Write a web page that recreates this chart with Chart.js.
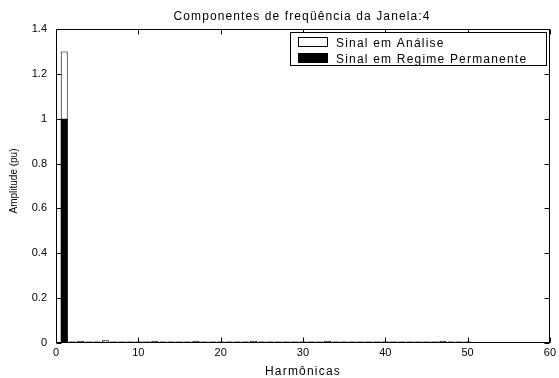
<!DOCTYPE html>
<html>
<head>
<meta charset="utf-8">
<script src="https://cdn.jsdelivr.net/npm/chart.js@4/dist/chart.umd.min.js"></script>
<style>
  html, body { margin: 0; padding: 0; background: #fff; }
  #wrap { width: 559px; height: 378px; }
</style>
</head>
<body>
<div id="wrap"><canvas id="c"></canvas></div>
<script>
// harmonic orders and amplitudes (pu)
const harmonics = [1, 2, 3, 4, 5, 6, 7, 8, 9, 10, 11, 12, 13, 14, 15, 16, 17, 18, 19, 20,
  21, 22, 23, 24, 25, 26, 27, 28, 29, 30, 31, 32, 33, 34, 35, 36, 37, 38, 39, 40,
  41, 42, 43, 44, 45, 46, 47, 48, 49, 50];
const analysis = [1.3, 0.007, 0.01, 0.007, 0.007, 0.012, 0.007, 0.007, 0.007, 0.007,
  0.007, 0.01, 0.007, 0.007, 0.007, 0.007, 0.01, 0.007, 0.007, 0.007,
  0.007, 0.007, 0.007, 0.01, 0.007, 0.007, 0.007, 0.007, 0.007, 0.007,
  0.007, 0.007, 0.01, 0.007, 0.007, 0.007, 0.007, 0.007, 0.007, 0.007,
  0.007, 0.007, 0.007, 0.007, 0.007, 0.007, 0.01, 0.007, 0.007, 0.007];
const steady = [1.0, 0.005, 0.005, 0.005, 0.005, 0.005, 0.005, 0.005, 0.005, 0.005,
  0.005, 0.005, 0.005, 0.005, 0.005, 0.005, 0.005, 0.005, 0.005, 0.005,
  0.005, 0.005, 0.005, 0.005, 0.005, 0.005, 0.005, 0.005, 0.005, 0.005,
  0.005, 0.005, 0.005, 0.005, 0.005, 0.005, 0.005, 0.005, 0.005, 0.005,
  0.005, 0.005, 0.005, 0.005, 0.005, 0.005, 0.005, 0.005, 0.005, 0.005];
const xTicks = [0, 10, 20, 30, 40, 50, 60];
const yTicks = [0, 0.2, 0.4, 0.6, 0.8, 1, 1.2, 1.4];

const titleText = 'Componentes de freqüência da Janela:4';
const xLabel = 'Harmônicas';
const yLabel = 'Amplitude (pu)';
const FONT = '"Liberation Sans", Arial, Helvetica, sans-serif';

const pts = (vals) => harmonics.map((h, i) => ({ x: h, y: vals[i] }));

/* frame, inward ticks, title, axis labels and the boxed legend, MATLAB style */
const matlabFrame = {
  id: 'matlabFrame',
  afterDraw(chart){
    const ctx = chart.ctx;
    const a = chart.chartArea;
    const xs = chart.scales.x, ys = chart.scales.y;
    const L = Math.round(a.left) + 0.5, R = Math.round(a.right) - 0.5;
    const T = Math.round(a.top) + 0.5, B = Math.round(a.bottom) - 0.5;
    ctx.save();
    ctx.strokeStyle = '#000';
    ctx.lineWidth = 1;
    ctx.strokeRect(L, T, R - L, B - T);
    ctx.beginPath();
    xTicks.forEach(v=>{
      const px = Math.round(xs.getPixelForValue(v)) + 0.5;
      ctx.moveTo(px, B); ctx.lineTo(px, B - 5);
      ctx.moveTo(px, T); ctx.lineTo(px, T + 5);
    });
    yTicks.forEach(v=>{
      const py = Math.round(ys.getPixelForValue(v)) + 0.5;
      ctx.moveTo(L, py); ctx.lineTo(L + 5, py);
      ctx.moveTo(R, py); ctx.lineTo(R - 5, py);
    });
    ctx.stroke();

    ctx.fillStyle = '#000';
    ctx.textBaseline = 'alphabetic';
    // title
    ctx.font = '12px ' + FONT;
    ctx.letterSpacing = '1.1px';
    ctx.textAlign = 'center';
    ctx.fillText(titleText, 302, 20);
    // x label
    ctx.letterSpacing = '1.2px';
    ctx.fillText(xLabel, 303, 375);
    // y label
    ctx.letterSpacing = '0px';
    ctx.font = '10px ' + FONT;
    ctx.save();
    ctx.translate(17, 181);
    ctx.rotate(-Math.PI / 2);
    ctx.fillText(yLabel, 0, 0);
    ctx.restore();

    // legend
    const bx = 290.5, by = 32.5, bw = 256, bh = 33;
    ctx.fillStyle = '#fff';
    ctx.fillRect(bx, by, bw, bh);
    ctx.strokeRect(bx, by, bw, bh);
    const ds = chart.data.datasets;
    const rows = [{ y: 37.5, base: 46.5 }, { y: 53.5, base: 62.5 }];
    ctx.font = '12px ' + FONT;
    ctx.letterSpacing = '1.2px';
    ctx.textAlign = 'left';
    ds.forEach((d, i)=>{
      const r = rows[i];
      ctx.fillStyle = d.backgroundColor;
      ctx.fillRect(298.5, r.y, 29, 9);
      ctx.strokeStyle = '#000';
      ctx.strokeRect(298.5, r.y, 29, 9);
      ctx.fillStyle = '#000';
      ctx.fillText(d.label, 336, r.base);
    });
    ctx.restore();
  }
};

new Chart(document.getElementById('c'), {
  type: 'bar',
  data: {
    datasets: [
      { label: 'Sinal em Análise', data: pts(analysis), backgroundColor: '#ffffff',
        borderColor: '#000000', borderWidth: 1, order: 2 },
      { label: 'Sinal em Regime Permanente', data: pts(steady), backgroundColor: '#000000',
        borderColor: '#000000', borderWidth: 0, order: 1 }
    ]
  },
  options: {
    responsive: true,
    maintainAspectRatio: false,
    animation: false,
    devicePixelRatio: 1,
    layout: { padding: { top: 29, right: 6, left: 0, bottom: 0 } },
    datasets: { bar: { grouped: false, barPercentage: 0.85, categoryPercentage: 1 } },
    plugins: { legend: { display: false }, title: { display: false }, tooltip: { enabled: false } },
    scales: {
      x: {
        type: 'linear', min: 0, max: 60, offset: false,
        afterFit: s => { s.height = 35; },
        afterBuildTicks: s => { s.ticks = xTicks.map(v => ({ value: v })); },
        ticks: { color: '#000', font: { family: FONT, size: 11 }, padding: 3, maxRotation: 0 },
        grid: { display: false, drawTicks: false },
        border: { display: false }
      },
      y: {
        min: 0, max: 1.4,
        afterFit: s => { s.width = 56; },
        afterBuildTicks: s => { s.ticks = yTicks.map(v => ({ value: v })); },
        ticks: { color: '#000', font: { family: FONT, size: 11 }, padding: 9,
          callback: v => String(v) },
        grid: { display: false, drawTicks: false },
        border: { display: false }
      }
    }
  },
  plugins: [matlabFrame]
});
</script>
</body>
</html>
